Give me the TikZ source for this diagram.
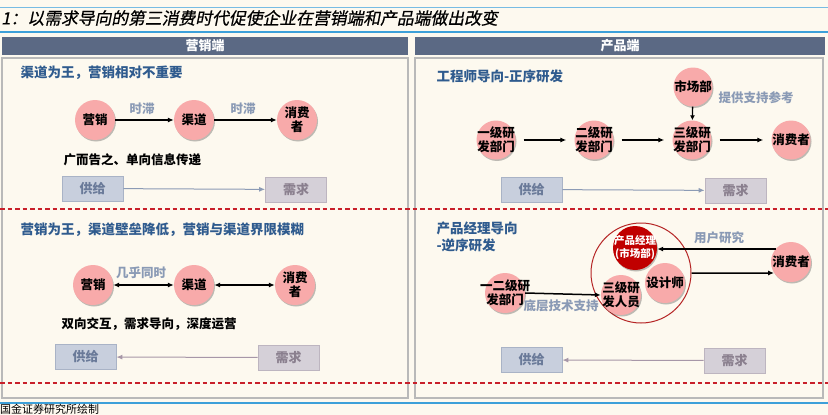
\documentclass[tikz,border=0pt]{standalone}
\usepackage{fontspec}
\setmainfont{Noto Sans CJK SC}
\newfontfamily\titlefont{Noto Sans CJK SC}[FakeSlant=0.2,FakeBold=0.6]
\usetikzlibrary{arrows.meta,shadows}
\definecolor{bgc}{HTML}{FDF9EF}
\definecolor{hdr}{HTML}{5B6984}
\definecolor{ttl}{HTML}{2F5B8E}
\definecolor{lbl}{HTML}{8A9AB5}
\definecolor{pinkc}{HTML}{F8AAAA}
\definecolor{supf}{HTML}{C8CFDD}
\definecolor{supd}{HTML}{A9B3C6}
\definecolor{supt}{HTML}{6A7A99}
\definecolor{demf}{HTML}{D5D0D8}
\definecolor{demd}{HTML}{BDB5C0}
\definecolor{demt}{HTML}{8A7F8E}
\definecolor{arrS}{HTML}{8C9BB5}
\definecolor{arrD}{HTML}{A797A8}
\definecolor{darkred}{HTML}{C00000}
\definecolor{bigred}{HTML}{B52525}
\definecolor{blueln}{HTML}{3DA0D9}
\definecolor{dashred}{HTML}{C8202A}
\tikzset{
  circ/.style={circle, fill=pinkc, minimum size=40pt, inner sep=-12pt, align=center,
    font=\fontsize{12.5}{14}\selectfont\bfseries,
    drop shadow={shadow xshift=1pt, shadow yshift=-1.5pt, opacity=0.25, fill=black}},
  pmcirc/.style={circ, fill=darkred, text=white, minimum size=44pt, font=\fontsize{10.5}{13}\selectfont\bfseries},
  sectitle/.style={anchor=west, text=ttl, font=\fontsize{13.5}{17}\selectfont\bfseries, align=left},
  blabel/.style={text=lbl, font=\fontsize{12.5}{14}\selectfont\bfseries},
  note/.style={anchor=west, font=\fontsize{12.5}{14}\selectfont\bfseries},
  supbox/.style={rectangle, fill=supf, draw=supd, line width=0.8pt, minimum width=61pt, minimum height=25pt, text=supt, font=\fontsize{13}{14}\selectfont\bfseries},
  dembox/.style={rectangle, fill=demf, draw=demd, line width=0.8pt, minimum width=61pt, minimum height=25pt, text=demt, font=\fontsize{13}{14}\selectfont\bfseries},
  harr/.style={-{Latex[length=6pt,width=5pt]}, line width=1.5pt},
  darr/.style={{Latex[length=6pt,width=5pt]}-{Latex[length=6pt,width=5pt]}, line width=1.5pt},
  sarr/.style={-{Latex[length=6pt,width=5pt]}, line width=1pt, color=arrS},
  rarr/.style={-{Latex[length=6pt,width=5pt]}, line width=1pt, color=arrD},
  hdrbar/.style={fill=hdr},
  panel/.style={draw=gray!55, line width=1.5pt},
  reddash/.style={draw=dashred, line width=1.1pt, dash pattern=on 4.5pt off 3pt}
}
\begin{document}
\begin{tikzpicture}[x=1pt,y=-1pt]
\useasboundingbox (0,0) rectangle (828,415);
\fill[bgc] (0,0) rectangle (828,415);
% top lines and title
\draw[blueln!70, line width=0.8pt] (0,7) -- (828,7);
\draw[blueln, line width=1.5pt] (0,32) -- (828,32);
\node[anchor=west, inner sep=1pt, font=\titlefont\fontsize{16.8}{18}\selectfont] (title) at (0,18) {1：以需求导向的第三消费时代促使企业在营销端和产品端做出改变};
% headers
\fill[hdrbar] (2,37) rectangle (408,55);
\fill[hdrbar] (415,37) rectangle (825,55);
\node[text=white, font=\fontsize{13}{14}\selectfont\bfseries] (h1) at (205,46) {营销端};
\node[text=white, font=\fontsize{13}{14}\selectfont\bfseries] (h2) at (620,46) {产品端};
% panels
\draw[panel] (2,58) rectangle (408,398);
\draw[panel] (415,58) rectangle (823,398);
\draw[reddash] (0,209) -- (828,209);
\draw[reddash] (0,383) -- (828,383);
\draw[blueln, line width=1.5pt] (0,403) -- (828,403);
\node[anchor=west, inner sep=1pt, font=\fontsize{11}{12}\selectfont] (src) at (-1,409.5) {国金证券研究所绘制};

% ---------- left top
\node[sectitle] (t1) at (17,73) {渠道为王，营销相对不重要};
\node[circ] (a1) at (95,120) {营销};
\node[circ] (a2) at (194,120) {渠道};
\node[circ] (a3) at (297,120) {消费\\者};
\draw[harr] (a1) -- (a2);
\draw[harr] (a2) -- (a3);
\node[blabel] (l1) at (142,109) {时滞};
\node[blabel] (l2) at (243,109) {时滞};
\node[note] (n1) at (60,160) {广而告之、单向信息传递};
\node[supbox] (s1) at (92.5,188.5) {供给};
\node[dembox] (d1) at (296,189.5) {需求};
\draw[sarr] (s1) -- (d1);

% ---------- left bottom
\node[sectitle] (t2) at (17,230) {营销为王，渠道壁垒降低，营销与渠道界限模糊};
\node[circ] (b1) at (93,285) {营销};
\node[circ] (b2) at (194,285) {渠道};
\node[circ] (b3) at (295,285) {消费\\者};
\draw[darr] (b1) -- (b2);
\draw[darr] (b2) -- (b3);
\node[blabel] (l3) at (141,273) {几乎同时};
\node[note] (n2) at (58,324) {双向交互，需求导向，深度运营};
\node[supbox] (s2) at (85.5,357) {供给};
\node[dembox] (d2) at (288.5,357.5) {需求};
\draw[rarr] (d2) -- (s2);

% ---------- right top
\node[sectitle] (t3) at (433,76) {工程师导向-正序研发};
\node[circ, minimum size=39pt] (m1) at (693,87) {市场部};
\node[circ, minimum size=39pt] (c1) at (496,140) {一级研\\发部门};
\node[circ, minimum size=39pt] (c2) at (594,140) {二级研\\发部门};
\node[circ, minimum size=39pt] (c3) at (692,140) {三级研\\发部门};
\node[circ, minimum size=39pt] (c4) at (791,140) {消费者};
\draw[harr, shorten <=8pt, shorten >=8pt] (c1) -- (c2);
\draw[harr, shorten <=8pt, shorten >=8pt] (c2) -- (c3);
\draw[harr, shorten <=8pt, shorten >=8pt] (c3) -- (c4);
\draw[-{Latex[length=5pt,width=5pt]}, line width=1.3pt] (m1) -- (c3);
\node[blabel] (l4) at (756,98) {提供支持参考};
\node[supbox] (s3) at (531.5,189.5) {供给};
\node[dembox] (d3) at (735.5,190.5) {需求};
\draw[sarr] (s3) -- (d3);

% ---------- right bottom
\node[sectitle] (t4) at (433,237) {产品经理导向\\-逆序研发};
\node[circle, draw=bigred, line width=1pt, minimum size=100pt, inner sep=0pt] (big) at (641,273) {};
\node[circ] (e1) at (505,293) {一二级研\\发部门};
\node[circ] (e2) at (621,295) {三级研\\发人员};
\node[circ] (e3) at (665,283) {设计师};
\node[pmcirc] (e4) at (635,248) {产品经理\\(市场部)};
\node[circ] (e5) at (791,262) {消费者};
\draw[harr] (e1.east) -- (e2.west);
\draw[harr] (e5.140) -- (e5.140 -| e4.east);
\draw[harr] (big.east) -- (e5.213);
\node[blabel] (l5) at (719,238) {用户研究};
\node[blabel] (l6) at (561,306) {底层技术支持};
\node[supbox] (s4) at (531.5,360) {供给};
\node[dembox] (d4) at (734.5,360.5) {需求};
\draw[rarr] (d4) -- (s4);
\end{tikzpicture}
\end{document}
